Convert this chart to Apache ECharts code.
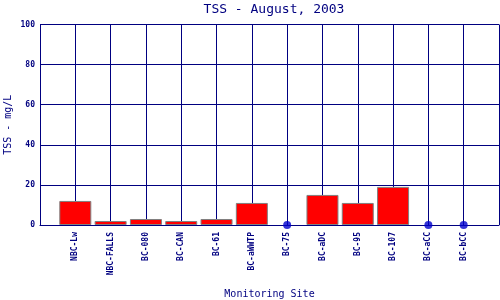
<!DOCTYPE html>
<html>
<head>
<meta charset="utf-8">
<script src="https://cdn.jsdelivr.net/npm/echarts@6/dist/echarts.min.js"></script>
<style>html,body{margin:0;padding:0;background:#fff}#c{width:500px;height:300px}</style>
</head>
<body>
<div id="c"></div>
<script>
const sites = ['NBC-Lw','NBC-FALLS','BC-080','BC-CAN','BC-61','BC-aWWTP','BC-75','BC-aDC','BC-95','BC-107','BC-aCC','BC-bCC'];
const tss = [12, 2, 3, 2, 3, 11, 0, 15, 11, 19, 0, 0];
const yTicks = [0, 20, 40, 60, 80, 100];

const navy = '#000080';
const font = 'DejaVu Sans Mono';
const axisData = [''].concat(sites, ['']);
const barData = [null].concat(tss.map(v => v > 0 ? v : null), [null]);
const dotData = [null].concat(tss.map(v => v === 0 ? v : null), [null]);

const chart = echarts.init(document.getElementById('c'), null, {renderer: 'canvas'});
chart.setOption({
  animation: false,
  title: {
    text: 'TSS - August, 2003',
    left: 269, top: -2, textAlign: 'center',
    textStyle: {fontFamily: font, fontSize: 13, fontWeight: 'normal', color: navy}
  },
  grid: {left: 40, right: 1, top: 24.5, bottom: 75, containLabel: false, outerBoundsMode: 'none'},
  xAxis: {
    type: 'category', data: axisData, boundaryGap: false,
    name: 'Monitoring Site', nameLocation: 'middle', nameGap: 64, nameMoveOverlap: false,
    nameTextStyle: {fontFamily: font, fontSize: 10, color: navy},
    axisLine: {show: true, lineStyle: {color: navy, width: 1}},
    axisTick: {show: false},
    splitLine: {show: true, lineStyle: {color: navy, width: 1}},
    axisLabel: {interval: 0, rotate: 90, margin: 7, fontFamily: font, fontSize: 8, fontWeight: 'bold', color: navy}
  },
  yAxis: {
    type: 'value', min: yTicks[0], max: yTicks[yTicks.length - 1], interval: 20,
    name: 'TSS - mg/L', nameLocation: 'middle', nameGap: 27, nameMoveOverlap: false,
    nameTextStyle: {fontFamily: font, fontSize: 10, color: navy},
    axisLine: {show: true, lineStyle: {color: navy, width: 1}},
    axisTick: {show: false},
    splitLine: {show: true, lineStyle: {color: navy, width: 1}},
    axisLabel: {margin: 5, fontFamily: font, fontSize: 8, fontWeight: 'bold', color: navy}
  },
  series: [
    {
      type: 'bar', data: barData, barWidth: 32,
      itemStyle: {color: '#ff0000', borderColor: '#808080', borderWidth: 1}
    },
    {
      type: 'scatter', data: dotData, symbol: 'circle', symbolSize: 8,
      itemStyle: {color: '#0000cc'}, z: 5
    }
  ]
});
</script>
</body>
</html>
